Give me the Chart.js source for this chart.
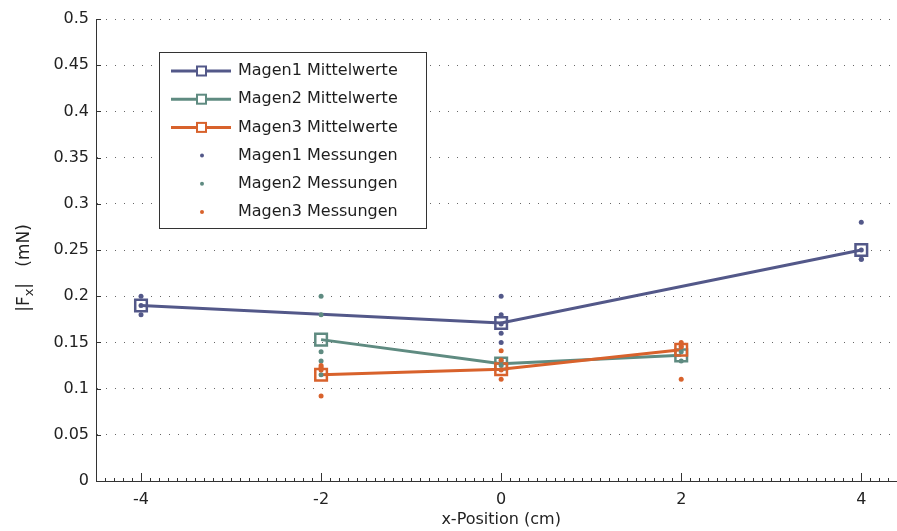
<!DOCTYPE html>
<html>
<head>
<meta charset="utf-8">
<script src="https://cdn.jsdelivr.net/npm/chart.js@4/dist/chart.umd.min.js"></script>
<style>
html,body{margin:0;padding:0;overflow:hidden;background:#fff;}
#wrap{position:relative;width:917px;height:531px;}
</style>
</head>
<body>
<div id="wrap"><canvas id="c" width="917" height="531"></canvas></div>
<script>
// ---- data ----
const xTicks = [-4, -2, 0, 2, 4];
const yTicks = [0, 0.05, 0.1, 0.15, 0.2, 0.25, 0.3, 0.35, 0.4, 0.45, 0.5];
const xTitle = 'x-Position (cm)';

const m1MeanX = [-4, 0, 4];
const m1MeanY = [0.19, 0.171, 0.25];
const m2MeanX = [-2, 0, 2];
const m2MeanY = [0.153, 0.127, 0.136];
const m3MeanX = [-2, 0, 2];
const m3MeanY = [0.115, 0.121, 0.142];

const m1MeasX = [-4, -4, -4, 0, 0, 0, 0, 0, 4, 4, 4, 4];
const m1MeasY = [0.2, 0.18, 0.19, 0.2, 0.18, 0.16, 0.15, 0.17, 0.28, 0.24, 0.25, 0.24];
const m2MeasX = [-2, -2, -2, -2, -2, 0, 0, 2, 2];
const m2MeasY = [0.2, 0.18, 0.14, 0.13, 0.115, 0.13, 0.125, 0.13, 0.14];
const m3MeasX = [-2, -2, -2, -2, 0, 0, 0, 0, 2, 2, 2, 2];
const m3MeasY = [0.123, 0.092, 0.12, 0.125, 0.141, 0.131, 0.11, 0.12, 0.15, 0.146, 0.11, 0.145];

const seriesLabels = ['Magen1 Mittelwerte', 'Magen2 Mittelwerte', 'Magen3 Mittelwerte',
                      'Magen1 Messungen', 'Magen2 Messungen', 'Magen3 Messungen'];
const colors = ['#535889', '#5f8b81', '#d8622c'];

const pts = (xs, ys) => xs.map((x, i) => ({x: x, y: ys[i]}));

function meanDs(label, xs, ys, color, order) {
  return {
    label: label, data: pts(xs, ys), showLine: true,
    borderColor: color, borderWidth: 3, backgroundColor: color,
    pointStyle: 'rect', pointRadius: 8.2, pointBorderWidth: 2.5,
    pointBorderColor: color, pointBackgroundColor: 'rgba(255,255,255,0)',
    order: order
  };
}
function measDs(label, xs, ys, color, order) {
  return {
    label: label, data: pts(xs, ys), showLine: false,
    backgroundColor: color, borderColor: color, borderWidth: 0,
    pointRadius: 2.5, pointBorderWidth: 0, pointStyle: 'circle',
    order: order
  };
}

const FONT = '"DejaVu Sans", sans-serif';

const decor = {
  id: 'decor',
  afterDraw(chart) {
    const ctx = chart.ctx;
    const xs = chart.scales.x, ys = chart.scales.y;
    const ca = chart.chartArea;
    ctx.save();
    // inward ticks
    ctx.strokeStyle = '#333';
    ctx.lineWidth = 1;
    ctx.beginPath();
    yTicks.forEach(v => {
      const py = Math.round(ys.getPixelForValue(v)) + 0.5;
      ctx.moveTo(ca.left, py); ctx.lineTo(ca.left + 5, py);
    });
    for (let k = -45; k <= 45; k++) {
      const v = k / 10;
      const px = Math.round(xs.getPixelForValue(v)) + 0.5;
      const major = xTicks.includes(v);
      ctx.moveTo(px, ca.bottom); ctx.lineTo(px, ca.bottom - (major ? 8 : 3));
    }
    ctx.stroke();

    // y title with subscript
    ctx.fillStyle = '#222';
    ctx.translate(25, 268);
    ctx.rotate(-Math.PI / 2);
    const big = '17px ' + FONT, small = '13px ' + FONT;
    const parts = [['|F', big, 0], ['x', small, 5], ['|   (mN)', big, 0]];
    let total = 0;
    parts.forEach(p => { ctx.font = p[1]; total += ctx.measureText(p[0]).width; });
    let cx = -total / 2;
    ctx.textBaseline = 'middle';
    ctx.textAlign = 'left';
    parts.forEach(p => { ctx.font = p[1]; ctx.fillText(p[0], cx, p[2]); cx += ctx.measureText(p[0]).width; });
    ctx.restore();

    // legend box
    ctx.save();
    const x0 = 159, y0 = 52, w = 267, h = 176;
    ctx.fillStyle = '#fff';
    ctx.fillRect(x0, y0, w, h);
    ctx.strokeStyle = '#333';
    ctx.lineWidth = 1;
    ctx.strokeRect(x0 + 0.5, y0 + 0.5, w, h);
    ctx.font = '16px ' + FONT;
    ctx.textBaseline = 'middle';
    ctx.textAlign = 'left';
    chart.data.datasets.forEach((ds, i) => {
      const yy = 71 + i * 28.2;
      const col = ds.borderColor;
      if (ds.showLine) {
        ctx.strokeStyle = col;
        ctx.lineWidth = 3;
        ctx.beginPath(); ctx.moveTo(171, yy); ctx.lineTo(231, yy); ctx.stroke();
        ctx.lineWidth = 2;
        ctx.fillStyle = '#fff';
        ctx.fillRect(197, yy - 4.5, 9, 9);
        ctx.strokeRect(197, yy - 4.5, 9, 9);
      } else {
        ctx.fillStyle = ds.backgroundColor;
        ctx.beginPath(); ctx.arc(202, yy, 2, 0, Math.PI * 2); ctx.fill();
      }
      ctx.fillStyle = '#1e1e1e';
      ctx.fillText(ds.label, 238, yy);
    });
    ctx.restore();
  }
};

new Chart(document.getElementById('c'), {
  type: 'scatter',
  data: {
    datasets: [
      meanDs(seriesLabels[0], m1MeanX, m1MeanY, colors[0], 6),
      meanDs(seriesLabels[1], m2MeanX, m2MeanY, colors[1], 5),
      meanDs(seriesLabels[2], m3MeanX, m3MeanY, colors[2], 4),
      measDs(seriesLabels[3], m1MeasX, m1MeasY, colors[0], 3),
      measDs(seriesLabels[4], m2MeasX, m2MeasY, colors[1], 2),
      measDs(seriesLabels[5], m3MeasX, m3MeasY, colors[2], 1)
    ]
  },
  options: {
    responsive: false,
    animation: false,
    layout: {padding: {left: 0, top: 19, right: 3, bottom: 0}},
    plugins: {legend: {display: false}, tooltip: {enabled: false}},
    scales: {
      x: {
        type: 'linear', min: -4.5, max: 4.5,
        afterBuildTicks: s => { s.ticks = xTicks.map(v => ({value: v})); },
        afterFit: s => { s.height = 50; },
        ticks: {font: {family: FONT, size: 16}, color: '#222', padding: 9, maxRotation: 0,
                callback: v => String(v)},
        grid: {display: false, drawTicks: false},
        border: {display: true, color: '#333', width: 1},
        title: {display: true, text: xTitle, font: {family: FONT, size: 16}, color: '#222',
                padding: {top: 0, bottom: 2}}
      },
      y: {
        type: 'linear', min: 0, max: 0.5,
        afterBuildTicks: s => { s.ticks = yTicks.map(v => ({value: v})); },
        afterFit: s => { s.width = 96; },
        ticks: {font: {family: FONT, size: 16}, color: '#222', padding: 7,
                callback: v => String(+v.toFixed(2))},
        grid: {display: true, drawTicks: false, color: '#666', lineWidth: 1},
        border: {display: true, color: '#333', width: 1, dash: [1, 8]}
      }
    }
  },
  plugins: [decor]
});
</script>
</body>
</html>
